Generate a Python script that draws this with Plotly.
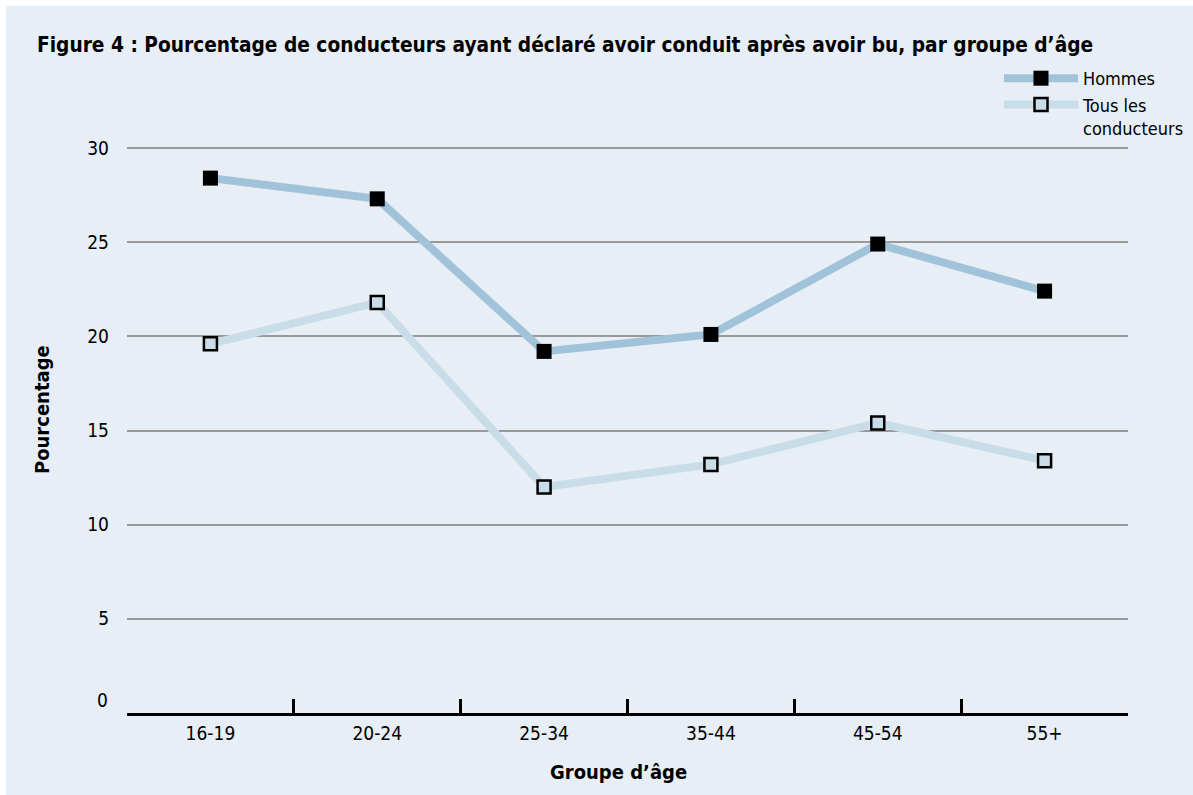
import plotly.graph_objects as go

categories = ["16-19", "20-24", "25-34", "35-44", "45-54", "55+"]
hommes = [28.4, 27.3, 19.2, 20.1, 24.9, 22.4]
tous = [19.6, 21.8, 12.0, 13.2, 15.4, 13.4]
y_ticks = [5, 10, 15, 20, 25, 30]

BG = "#e7eef6"
C_H = "#a0c3da"
C_T = "#c9dde9"
FONT = "Liberation Sans Narrow, Arial Narrow, DejaVu Sans Condensed, Roboto Condensed, Roboto, sans-serif"

fig = go.Figure()
fig.add_trace(go.Scatter(
    x=categories, y=hommes, name="Hommes", mode="lines+markers",
    line=dict(color=C_H, width=8),
    marker=dict(symbol="square", size=15, color="black", line=dict(width=0)),
))
fig.add_trace(go.Scatter(
    x=categories, y=tous, name="Tous les<br>conducteurs", mode="lines+markers",
    line=dict(color=C_T, width=8),
    marker=dict(symbol="square", size=13, color=C_T, line=dict(width=2.5, color="black")),
))

OFF = 6
W, H = 1193 - OFF, 795 - OFF
L, R = 127 - OFF, 65
T, B = 142 - OFF, 82
pw = W - L - R
ph = H - T - B
# reference: value 30 at y=148, value 0 at y=713 (page pixels)
y_top = 30 + (148 - 142) * 30 / (713 - 148)
ph_ref_top = 142

fig.update_layout(
    width=W, height=H,
    margin=dict(l=L, r=R, t=T, b=B, pad=0, autoexpand=False),
    paper_bgcolor=BG, plot_bgcolor=BG,
    font=dict(family=FONT, size=19, color="black"),
    title=dict(
        text="<b>Figure 4 : Pourcentage de conducteurs ayant déclaré avoir conduit après avoir bu, par groupe d’âge</b>",
        x=(37 - OFF) / W, xanchor="left", y=1 - (45 - OFF) / H, yanchor="middle",
        font=dict(family=FONT, size=20.7, color="black"),
    ),
    showlegend=True,
    legend=dict(
        x=(999 - 127) / pw, xanchor="left", y=1 + (ph_ref_top - 60) / ph, yanchor="top",
        bgcolor="rgba(0,0,0,0)", font=dict(family=FONT, size=18),
        itemwidth=74, valign="top", tracegroupgap=0, traceorder="normal",
    ),
    xaxis=dict(
        type="category", range=[-0.5, 5.5], tickson="boundaries",
        ticks="inside", ticklen=14, tickwidth=3, tickcolor="black",
        showline=True, linewidth=3, linecolor="black",
        showgrid=False, zeroline=False, ticklabelstandoff=1,
        tickfont=dict(size=19),
    ),
    yaxis=dict(
        range=[0, y_top], tickvals=y_ticks, ticks="", showline=False,
        showgrid=True, gridcolor="#999999", gridwidth=1.5, zeroline=False,
        ticklabelstandoff=17, tickfont=dict(size=19),
    ),
    annotations=[
        dict(text="0", xref="paper", yref="y", x=0, y=0, xanchor="right", yanchor="middle",
             xshift=-17, yshift=13, showarrow=False, font=dict(size=19)),
        dict(text="<b>Pourcentage</b>", xref="paper", yref="paper", x=(42 - 127) / pw,
             y=(713 - 410) / ph, xanchor="center", yanchor="middle", textangle=-90,
             showarrow=False, font=dict(size=20)),
        dict(text="<b>Groupe d’âge</b>", xref="paper", yref="paper", x=(618 - 127) / pw,
             y=(713 - 772) / ph, xanchor="center", yanchor="middle",
             showarrow=False, font=dict(size=20)),
    ],
)

fig.write_html("out.html", post_script="document.body.style.margin='6px 0 0 6px';")
